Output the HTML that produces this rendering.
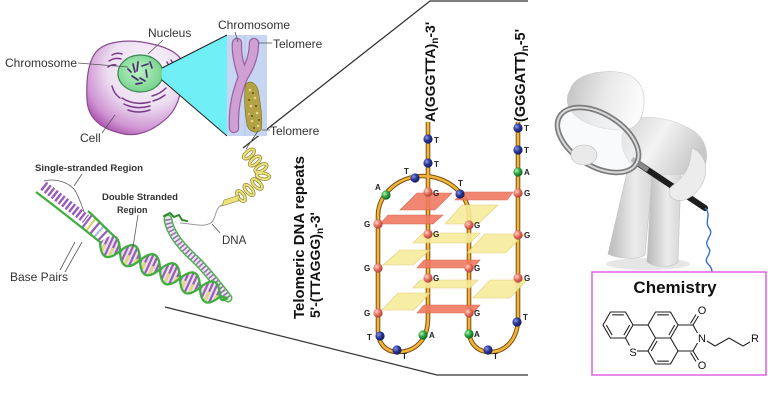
<!DOCTYPE html>
<html><head><meta charset="utf-8">
<style>
html,body{margin:0;padding:0;background:#fff;}
svg{display:block;}
text{font-family:"Liberation Sans",Arial,sans-serif;}
</style></head><body>
<svg width="768" height="417" viewBox="0 0 768 417" xmlns="http://www.w3.org/2000/svg">
<defs>
<radialGradient id="cellg" cx="0.62" cy="0.3" r="0.8">
 <stop offset="0" stop-color="#faf4fb"/>
 <stop offset="0.5" stop-color="#eddff1"/>
 <stop offset="0.8" stop-color="#cf95d3"/>
 <stop offset="1" stop-color="#a442a6"/>
</radialGradient>
<radialGradient id="nucg" cx="0.45" cy="0.45" r="0.6">
 <stop offset="0" stop-color="#bdf2c5"/>
 <stop offset="1" stop-color="#72d08a"/>
</radialGradient>
<radialGradient id="gb" cx="0.35" cy="0.35" r="0.7"><stop offset="0" stop-color="#ffd6cc"/><stop offset="0.5" stop-color="#e8725f"/><stop offset="1" stop-color="#a83c2e"/></radialGradient>
<radialGradient id="tb" cx="0.35" cy="0.35" r="0.7"><stop offset="0" stop-color="#8a98e8"/><stop offset="0.5" stop-color="#2a3796"/><stop offset="1" stop-color="#121a55"/></radialGradient>
<radialGradient id="ab" cx="0.35" cy="0.35" r="0.7"><stop offset="0" stop-color="#b8f4b8"/><stop offset="0.5" stop-color="#2fa340"/><stop offset="1" stop-color="#0f5e1e"/></radialGradient>
<linearGradient id="headg" x1="0" y1="0" x2="1" y2="0.2"><stop offset="0" stop-color="#bfbfbf"/><stop offset="0.55" stop-color="#e9e9e9"/><stop offset="1" stop-color="#fbfbfb"/></linearGradient>
<linearGradient id="bodyg" x1="0" y1="0" x2="1" y2="0.4"><stop offset="0" stop-color="#d2d2d2"/><stop offset="0.5" stop-color="#f3f3f3"/><stop offset="1" stop-color="#c9c9c9"/></linearGradient>
<linearGradient id="legg" x1="0" y1="0" x2="1" y2="0"><stop offset="0" stop-color="#b9b9b9"/><stop offset="0.6" stop-color="#ececec"/><stop offset="1" stop-color="#d6d6d6"/></linearGradient>
<clipPath id="lobes"><path d="M100,242 C100.6,258.4 107.3,261.5 120,251.1 C119.5,234.7 112.8,231.6 100,242Z M120,251.1 C132.8,240.7 139.5,243.8 140,260.2 C127.3,270.6 120.6,267.5 120,251.1Z M140,260.2 C140.6,276.6 147.3,279.7 160,269.3 C159.5,252.9 152.8,249.8 140,260.2Z M160,269.3 C172.8,258.9 179.5,262 180,278.4 C167.3,288.8 160.6,285.7 160,269.3Z M180,278.4 C180.6,294.8 187.3,297.9 200,287.5 C199.5,271.1 192.8,268 180,278.4Z M200,287.5 C212.8,277.1 219.5,280.2 220,296.6 C207.3,307 200.6,303.9 200,287.5Z"/></clipPath>
</defs>

<!-- spotlight lines -->
<polyline points="243,148 430,1 528,1" stroke="#333" stroke-width="1.3" fill="none"/>
<polyline points="165,307 437,375 528,375" stroke="#333" stroke-width="1.3" fill="none"/>

<!-- cell -->
<path d="M96,52 C106,40 132,39 152,44 C170,48 186,56 183,72 C181,90 180,104 169,116 C156,129 140,137 124,134 C104,130 88,121 87,100 C86,80 88,62 96,52Z" fill="url(#cellg)" stroke="#8a4a90" stroke-width="1.2"/>
<g stroke="#7a3a8a" stroke-width="1.5" fill="none" stroke-linecap="round">
<path d="M112,55 q5,-3 10,-1"/><path d="M109,61 q6,-4 12,-2"/><path d="M108,67 q4,-3 8,-2"/>
<path d="M167,62 q4,6 2,14"/><path d="M171,60 q5,8 2,18"/>
<path d="M122,98 q12,8 28,4"/><path d="M124,104 q12,6 26,2"/><path d="M128,110 q10,4 22,0"/>
<path d="M152,96 q8,-2 14,-8"/><path d="M153,101 q7,-2 12,-6"/><path d="M112,86 q2,8 8,12"/>
</g>
<ellipse cx="140.5" cy="73.5" rx="22.5" ry="18.5" fill="url(#nucg)" stroke="#3a8a50" stroke-width="1.2"/>
<g stroke="#4a3070" stroke-width="1.7" stroke-linecap="round">
<path d="M133,64 l2,8"/><path d="M138,62 l-1,9"/><path d="M142,66 l6,-2"/><path d="M146,70 l1,7"/><path d="M132,76 l6,4"/><path d="M140,78 l5,3"/><path d="M150,62 l2,6"/><path d="M136,84 l6,-1"/><path d="M128,69 l3,3"/>
</g>

<!-- cyan triangle -->
<polygon points="162,68 227,35 227,136 162,80" fill="#70f0f6"/>
<line x1="162" y1="68" x2="227" y2="35" stroke="#222" stroke-width="1"/>
<line x1="162" y1="80" x2="227" y2="136" stroke="#222" stroke-width="1"/>
<rect x="227" y="35" width="40" height="101" fill="#c6d6f2"/>
<line x1="245" y1="35" x2="245" y2="136" stroke="#b0c2e4" stroke-width="0.8"/>
<!-- chromosome -->
<g fill="none" stroke-linecap="round">
<path d="M237,43 C236,55 240,68 243,77 C238,90 233,105 234,128" stroke="#9a62a2" stroke-width="10.5"/>
<path d="M254,43 C254,56 249,68 243,77" stroke="#9a62a2" stroke-width="10.5"/>
<path d="M237,43 C236,55 240,68 243,77 C238,90 233,105 234,128" stroke="#d0a0d4" stroke-width="8"/>
<path d="M254,43 C254,56 249,68 243,77" stroke="#d0a0d4" stroke-width="8"/>
</g>
<path d="M246,84 C251,79 258,84 259,95 C261,108 263,121 261,130 C256,134 249,132 247,125 C245,112 243,95 246,84Z" fill="#b3a245" stroke="#7a6c20" stroke-width="0.6"/>
<g fill="#e6d880"><circle cx="250" cy="90" r="1.3"/><circle cx="255" cy="98" r="1.3"/><circle cx="251" cy="106" r="1.3"/><circle cx="257" cy="113" r="1.3"/><circle cx="252" cy="121" r="1.3"/><circle cx="258" cy="126" r="1.2"/><circle cx="249" cy="114" r="1"/></g>
<g fill="#5e5010"><circle cx="253" cy="93" r="1"/><circle cx="249" cy="100" r="1"/><circle cx="256" cy="106" r="1"/><circle cx="252" cy="116" r="1"/><circle cx="259" cy="120" r="1"/><circle cx="254" cy="128" r="1"/></g>

<!-- labels top-left -->
<g stroke="#555" stroke-width="0.8">
<line x1="78" y1="63" x2="128" y2="67"/>
<line x1="163" y1="40" x2="148" y2="54"/>
<line x1="102" y1="133" x2="115" y2="115"/>
<line x1="235" y1="32" x2="238" y2="42"/>
<line x1="258" y1="43" x2="272" y2="43"/>
<line x1="262" y1="130" x2="270" y2="130"/>
</g>
<g font-size="12" fill="#333">
<text x="5" y="67">Chromosome</text>
<text x="148" y="37">Nucleus</text>
<text x="218" y="29">Chromosome</text>
<text x="273" y="48">Telomere</text>
<text x="270" y="135">Telomere</text>
<text x="80" y="142">Cell</text>
</g>

<!-- link line chromosome to coil -->
<line x1="258" y1="131" x2="246" y2="149" stroke="#555" stroke-width="0.8"/>
<!-- yellow coil -->
<g fill="none">
<g stroke="#8c8030" stroke-width="3.4">
<ellipse cx="249" cy="154" rx="6.5" ry="3" transform="rotate(-40 249 154)"/>
<ellipse cx="255" cy="161" rx="6.5" ry="3" transform="rotate(-40 255 161)"/>
<ellipse cx="261" cy="168" rx="6.5" ry="3" transform="rotate(-30 261 168)"/>
<ellipse cx="263" cy="176" rx="6.5" ry="3" transform="rotate(10 263 176)"/>
<ellipse cx="257" cy="184" rx="6.5" ry="3" transform="rotate(45 257 184)"/>
<ellipse cx="249" cy="190" rx="6.5" ry="3" transform="rotate(50 249 190)"/>
<ellipse cx="241" cy="196" rx="6" ry="3" transform="rotate(55 241 196)"/>
</g>
<g stroke="#ece27c" stroke-width="2">
<ellipse cx="249" cy="154" rx="6.5" ry="3" transform="rotate(-40 249 154)"/>
<ellipse cx="255" cy="161" rx="6.5" ry="3" transform="rotate(-40 255 161)"/>
<ellipse cx="261" cy="168" rx="6.5" ry="3" transform="rotate(-30 261 168)"/>
<ellipse cx="263" cy="176" rx="6.5" ry="3" transform="rotate(10 263 176)"/>
<ellipse cx="257" cy="184" rx="6.5" ry="3" transform="rotate(45 257 184)"/>
<ellipse cx="249" cy="190" rx="6.5" ry="3" transform="rotate(50 249 190)"/>
<ellipse cx="241" cy="196" rx="6" ry="3" transform="rotate(55 241 196)"/>
</g>
</g>
<polygon points="240,195 224,200 222,206 238,201" fill="#ece27c" stroke="#8c8030" stroke-width="0.6"/>
<path d="M222,205 C215,208 216,218 212,222 C205,228 195,224 180,223" stroke="#999" stroke-width="1" fill="none"/>

<!-- second DNA loop -->
<g fill="none" stroke-linecap="round">
<path d="M168,219 C170,235 185,250 198,262 C208,272 218,285 228,298" stroke="#4cb64c" stroke-width="9"/>
<path d="M168,219 C170,235 185,250 198,262 C208,272 218,285 228,298" stroke="#ebe6ef" stroke-width="6"/>
<path d="M168,219 C170,235 185,250 198,262 C208,272 218,285 228,298" stroke="#9470b0" stroke-width="6" stroke-dasharray="1.6 2.2" stroke-linecap="butt"/>
<path d="M164,216 l6,-3 l4,4 l5,-2 l3,5 l5,1" stroke="#2e8a2e" stroke-width="2"/>
</g>

<!-- main helix rungs -->
<g clip-path="url(#lobes)">
<line x1="96" y1="240.2" x2="226" y2="299.4" stroke="#e8e2ee" stroke-width="32"/>
<line x1="96" y1="240.2" x2="226" y2="299.4" stroke="#9a5cb4" stroke-width="32" stroke-dasharray="2.2 2.2"/>
<line x1="92.9" y1="247" x2="222.9" y2="306.2" stroke="#e6d870" stroke-width="15" stroke-dasharray="2.2 6.6"/>
</g>
<!-- single strand bases -->
<line x1="43.4" y1="185.7" x2="86" y2="219" stroke="#9a5ab8" stroke-width="10" stroke-dasharray="2.4 2"/>
<g stroke-width="2.2">
<line x1="82" y1="228" x2="92" y2="215" stroke="#9a5ab8"/>
<line x1="86" y1="231" x2="96" y2="218" stroke="#e0d070"/>
<line x1="90" y1="234" x2="100" y2="222" stroke="#9a5ab8"/>
<line x1="94" y1="237" x2="104" y2="226" stroke="#a8c0e0"/>
<line x1="98" y1="240.5" x2="108" y2="230" stroke="#9a5ab8"/>
</g>
<!-- strands -->
<g fill="none" stroke="#3fae3f" stroke-width="2.3">
<path d="M36,192 C60,210 80,226 100,242 C100.6,258.4 107.3,261.5 120,251.1 C132.8,240.7 139.5,243.8 140,260.2 C140.6,276.6 147.3,279.7 160,269.3 C172.8,258.9 179.5,262 180,278.4 C180.6,294.8 187.3,297.9 200,287.5 C212.8,277.1 219.5,280.2 220,296.6 C221,302 224,300 228,298"/>
<path d="M88,211 C98,220 108,231 114.6,236.5 C117.95,238 119.75,242.9 120,251.1 C120.6,267.5 127.3,270.6 140,260.2 C152.8,249.8 159.5,252.9 160,269.3 C160.6,285.7 167.3,288.8 180,278.4 C192.8,268 199.5,271.1 200,287.5 C200.6,303.9 207.3,307 220,296.6 L228,298"/>
</g>

<!-- DNA labels -->
<g stroke="#555" stroke-width="0.8" fill="none">
<path d="M44,181 C55,178 70,182 76,192 C80,200 82,206 84,212"/>
<line x1="82" y1="174" x2="74" y2="186"/>
<line x1="138" y1="215" x2="133" y2="247"/>
<line x1="60" y1="270" x2="75" y2="242"/>
<line x1="65" y1="272" x2="82" y2="242"/>
<line x1="220" y1="233" x2="212" y2="224"/>
</g>
<g fill="#333">
<text x="35" y="171" font-size="9" font-weight="bold" textLength="108" lengthAdjust="spacingAndGlyphs">Single-stranded Region</text>
<text x="102" y="200" font-size="9" font-weight="bold" textLength="76" lengthAdjust="spacingAndGlyphs">Double Stranded</text>
<text x="117" y="213" font-size="9" font-weight="bold">Region</text>
<text x="10" y="281" font-size="12">Base Pairs</text>
<text x="222" y="244" font-size="11.5">DNA</text>
</g>

<!-- Telomeric DNA repeats text -->
<text transform="translate(304,319) rotate(-90)" font-size="14.5" font-weight="bold" fill="#111" textLength="163" lengthAdjust="spacingAndGlyphs">Telomeric DNA repeats</text>
<text transform="translate(320,318) rotate(-90)" font-size="14" font-weight="bold" fill="#111">5'-(TTAGGG)<tspan font-size="10" dy="3">n</tspan><tspan dy="-3">-3'</tspan></text>

<!-- quadruplex strands -->
<g fill="none">
<path d="M428,122 L428,318 C428,345 410,352 398,352 C386,352 378,344 378,330 L378,215 C378,195 398,176 423,176 C448,176 469,195 469,215 L469,330 C469,344 478,352 490,352 C505,352 518,340 518,318 L518,122" stroke="#7a5010" stroke-width="4.6"/>
<path d="M428,122 L428,318 C428,345 410,352 398,352 C386,352 378,344 378,330 L378,215 C378,195 398,176 423,176 C448,176 469,195 469,215 L469,330 C469,344 478,352 490,352 C505,352 518,340 518,318 L518,122" stroke="#f2b43a" stroke-width="2.6"/>
</g>
<!-- plates -->
<g stroke-width="0.6" opacity="0.9">
<g fill="#f07a62" stroke="#d25a45">
<polygon points="400,210 417,193 452,193 435,210"/>
<polygon points="455,200 463,192 513,192 507,200"/>
<polygon points="380,224 388,215 443,215 433,224"/>
<polygon points="417,268 424,260 480,260 473,268"/>
<polygon points="417,313 424,305 480,305 473,313"/>
</g>
<g fill="#f7ec9c" stroke="#d9c86a">
<polygon points="445,224 462,205 498,205 478,224"/>
<polygon points="413,243 423,233 480,233 470,243"/>
<polygon points="467,253 485,234 525,234 505,253"/>
<polygon points="383,265 400,250 430,250 413,265"/>
<polygon points="413,288 420,280 478,280 470,288"/>
<polygon points="473,298 490,280 527,280 510,298"/>
<polygon points="382,310 398,293 430,293 414,310"/>
</g>
</g>
<!-- balls -->
<g>
<g fill="url(#tb)">
<circle cx="428" cy="139" r="4.6"/><circle cx="428" cy="163" r="4.6"/><circle cx="415" cy="178" r="4.6"/><circle cx="460" cy="194" r="4.6"/>
<circle cx="518" cy="128" r="4.6"/><circle cx="518" cy="150" r="4.6"/>
<circle cx="380" cy="336" r="4.6"/><circle cx="397" cy="350" r="4.6"/><circle cx="488" cy="350" r="4.6"/><circle cx="517" cy="322" r="4.6"/>
</g>
<g fill="url(#ab)">
<circle cx="386" cy="195" r="4.6"/><circle cx="423" cy="335" r="4.6"/><circle cx="469" cy="334" r="4.6"/><circle cx="518" cy="172" r="4.6"/>
</g>
<g fill="url(#gb)">
<circle cx="428" cy="192" r="4.6"/><circle cx="518" cy="193" r="4.6"/>
<circle cx="378" cy="224" r="4.6"/><circle cx="378" cy="268" r="4.6"/><circle cx="378" cy="313" r="4.6"/>
<circle cx="428" cy="234" r="4.6"/><circle cx="428" cy="278" r="4.6"/>
<circle cx="469" cy="225" r="4.6"/><circle cx="469" cy="268" r="4.6"/><circle cx="469" cy="313" r="4.6"/>
<circle cx="518" cy="235" r="4.6"/><circle cx="518" cy="278" r="4.6"/>
</g>
</g>
<g font-size="8" font-weight="bold" fill="#222">
<text x="434" y="143">T</text><text x="434" y="167">T</text><text x="404" y="174">T</text><text x="375" y="190">A</text>
<text x="433" y="196">G</text><text x="458" y="186">T</text>
<text x="524" y="131">T</text><text x="524" y="153">T</text><text x="524" y="175">A</text><text x="524" y="196">G</text>
<text x="364" y="227">G</text><text x="364" y="271">G</text><text x="364" y="316">G</text>
<text x="433" y="237">G</text><text x="433" y="281">G</text>
<text x="474" y="228">G</text><text x="474" y="271">G</text><text x="474" y="316">G</text>
<text x="524" y="238">G</text><text x="524" y="281">G</text>
<text x="367" y="340">T</text><text x="402" y="359">T</text><text x="429" y="338">A</text>
<text x="474" y="337">A</text><text x="493" y="359">T</text><text x="523" y="320">T</text>
</g>
<text transform="translate(435,122) rotate(-90)" font-size="14" font-weight="bold" fill="#111">A(GGGTTA)<tspan font-size="10" dy="3">n</tspan><tspan dy="-3">-3'</tspan></text>
<text transform="translate(525,122) rotate(-90)" font-size="14.5" font-weight="bold" fill="#111">(GGGATT)<tspan font-size="10" dy="3">n</tspan><tspan dy="-3">-5'</tspan></text>

<!-- man -->
<ellipse cx="648" cy="264" rx="42" ry="6" fill="#e6e6e6"/>
<path d="M628,168 L653,170 L645,255 C638,260 618,259 608,254 Z" fill="url(#legg)" stroke="#c4c4c4" stroke-width="0.6"/>
<path d="M652,172 L681,174 L678,262 C672,268 655,268 647,262 Z" fill="url(#legg)" stroke="#c4c4c4" stroke-width="0.6"/>
<path d="M628,122 C645,113 675,118 695,132 C708,142 710,160 702,170 C692,176 665,176 645,172 C628,168 620,150 622,135 Z" fill="url(#bodyg)" stroke="#cfcfcf" stroke-width="0.6"/>
<path d="M570,90 C574,76 595,70 618,72 C636,74 645,86 644,104 C643,120 636,130 622,130 C602,130 582,124 572,112 C566,105 566,97 570,90 Z" fill="url(#headg)" stroke="#c8c8c8" stroke-width="0.6"/>
<line x1="636" y1="162" x2="705" y2="208" stroke="#1e1e1e" stroke-width="6" stroke-linecap="round"/>
<line x1="632" y1="159" x2="648" y2="170" stroke="#8a8a8a" stroke-width="5"/>
<path d="M692,148 C708,155 710,175 698,190 C692,198 683,202 676,200 C668,198 667,190 672,186 C680,180 688,172 690,160 Z" fill="#ececec" stroke="#c2c2c2" stroke-width="0.6"/>
<ellipse cx="598" cy="140" rx="45" ry="26" transform="rotate(32 598 140)" fill="#f2f4f6" fill-opacity="0.45" stroke="#7c7c7c" stroke-width="5.5"/>
<ellipse cx="598" cy="140" rx="45" ry="26" transform="rotate(32 598 140)" fill="none" stroke="#dadada" stroke-width="2"/>
<ellipse cx="584" cy="155" rx="13" ry="10" fill="#eaeaea" stroke="#b8b8b8" stroke-width="0.6"/>
<path d="M705,208 C712,214 704,222 709,228 C715,235 703,240 708,247 C714,254 702,258 708,264 C712,268 712,270 712,273" stroke="#3b6fd0" stroke-width="1.4" fill="none"/>

<!-- chemistry box -->
<rect x="592" y="272" width="174" height="103" fill="#fff" stroke="#e060e0" stroke-width="1.5"/>
<text x="675" y="293" font-size="17" font-weight="bold" text-anchor="middle" fill="#111">Chemistry</text>
<g stroke="#222" stroke-width="1.1" fill="none" stroke-linejoin="round">
<polygon points="633,325 625.5,338 610.5,338 603,325 610.5,312 625.5,312"/>
<polyline points="625.5,338 629.5,345.5"/>
<polyline points="637,351 648,351"/>
<polyline points="633,325 648,325"/>
<polygon points="678,325 670.5,338 655.5,338 648,325 655.5,312 670.5,312"/>
<polygon points="678,351 670.5,364 655.5,364 648,351 655.5,338 670.5,338"/>
<polyline points="678,325 693,325 697.5,333"/>
<polyline points="678,351 693,351 697.5,343"/>
<line x1="693" y1="325" x2="698.5" y2="316"/>
<line x1="690.5" y1="323.5" x2="696" y2="314.5"/>
<line x1="693" y1="351" x2="698.5" y2="360"/>
<line x1="690.5" y1="352.5" x2="696" y2="361.5"/>
<polyline points="707,341 715,346 729,338 743,346 750,342"/>
<line x1="612.15" y1="314.86" x2="623.85" y2="314.86"/>
<line x1="629.7" y1="325" x2="623.85" y2="335.14"/>
<line x1="612.15" y1="335.14" x2="606.3" y2="325"/>
<line x1="657.15" y1="314.86" x2="668.85" y2="314.86"/>
<line x1="674.7" y1="325" x2="668.85" y2="335.14"/>
<line x1="657.15" y1="361.14" x2="668.85" y2="361.14"/>
<line x1="651.3" y1="351" x2="657.15" y2="340.86"/>
</g>
<g font-size="11" fill="#111" text-anchor="middle">
<text x="702" y="314">O</text>
<text x="702" y="342">N</text>
<text x="702" y="369">O</text>
<text x="633" y="356">S</text>
<text x="755" y="342">R</text>
</g>
</svg>
</body></html>
